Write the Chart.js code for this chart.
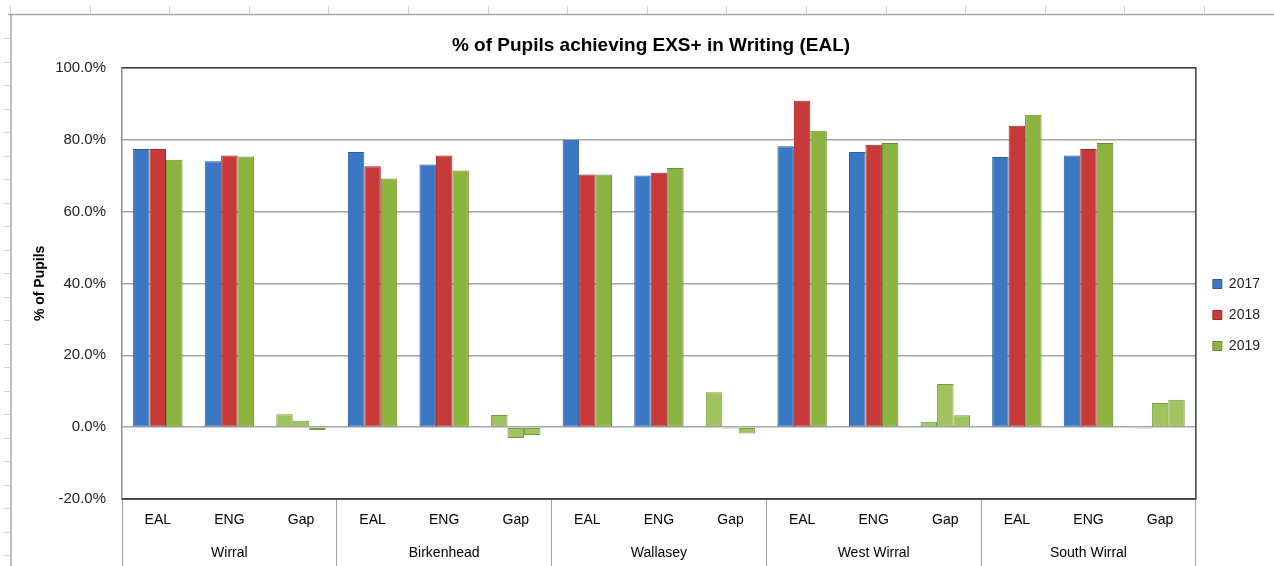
<!DOCTYPE html>
<html>
<head>
<meta charset="utf-8">
<title>% of Pupils achieving EXS+ in Writing (EAL)</title>
<script src="https://cdn.jsdelivr.net/npm/chart.js@4.4.1/dist/chart.umd.min.js"></script>
<style>
    html, body { margin: 0; padding: 0; background: #fff; }
    canvas { display: block; }
</style>
</head>
<body>
<canvas id="writingChart" width="1274" height="566"></canvas>
<script>
// data
const years = ["2017", "2018", "2019"];
const measures = ["EAL", "ENG", "Gap", "EAL", "ENG", "Gap", "EAL", "ENG", "Gap", "EAL", "ENG", "Gap", "EAL", "ENG", "Gap"];
const areas = ["Wirral", "Birkenhead", "Wallasey", "West Wirral", "South Wirral"];
const values2017 = [77.4, 74.0, 3.6, 76.6, 73.1, 3.4, 80.0, 70.0, 9.7, 78.2, 76.6, 1.5, 75.2, 75.6, -0.4];
const values2018 = [77.4, 75.6, 1.8, 72.6, 75.6, -3.0, 70.3, 70.8, -0.4, 90.8, 78.6, 12.0, 83.9, 77.4, 6.7];
const values2019 = [74.4, 75.3, -0.8, 69.2, 71.4, -2.2, 70.3, 72.1, -1.8, 82.5, 79.1, 3.3, 86.9, 79.1, 7.6];
const yTicks = [-20, 0, 20, 40, 60, 80, 100];

const seriesColors = ["#3b78c4", "#c83a3a", "#8ab43e"];
const seriesEdges = ["#2c5d9c", "#9c2b2b", "#6a8d2c"];
const gapColor = "#9fc35e";
const gapEdge = "#7a9b3e";

// two-line tick labels: area name sits under the middle (ENG) bar group
const tickLabels = measures.map((m, i) => (i % 3 === 1 ? [m, areas[(i - 1) / 3]] : [m]));

function makeDataset(label, data, k) {
    return {
        label: label,
        data: data,
        backgroundColor: (ctx) => (ctx.dataIndex % 3 === 2 ? gapColor : seriesColors[k]),
        borderColor: (ctx) => (ctx.dataIndex % 3 === 2 ? gapEdge : seriesEdges[k]),
        borderWidth: 1,
        borderSkipped: false,
        categoryPercentage: 0.69,
        barPercentage: 1.0,
    };
}

// worksheet cell borders behind the chart + dark plot frame
const sheetAndFrame = {
    id: "sheetAndFrame",
    beforeDraw(chart) {
        const ctx = chart.ctx;
        ctx.save();
        ctx.fillStyle = "#ffffff";
        ctx.fillRect(0, 0, chart.width, chart.height);
        ctx.strokeStyle = "#a6a6a6";
        ctx.lineWidth = 1.5;
        ctx.beginPath();
        ctx.moveTo(8, 14.5);
        ctx.lineTo(chart.width, 14.5);
        ctx.moveTo(11, 14.5);
        ctx.lineTo(11, chart.height);
        ctx.stroke();
        ctx.strokeStyle = "#d0d0d0";
        ctx.lineWidth = 1;
        ctx.beginPath();
        for (let x = 10; x < chart.width; x += 79.6) {
            ctx.moveTo(Math.round(x) + 0.5, 6);
            ctx.lineTo(Math.round(x) + 0.5, 14);
        }
        for (let y = 38; y < chart.height; y += 23.5) {
            ctx.moveTo(4, Math.round(y) + 0.5);
            ctx.lineTo(11, Math.round(y) + 0.5);
        }
        ctx.stroke();
        ctx.restore();
    },
    afterDraw(chart) {
        const a = chart.chartArea;
        const ctx = chart.ctx;
        ctx.save();
        ctx.strokeStyle = "#404040";
        ctx.lineWidth = 1.5;
        ctx.beginPath();
        ctx.moveTo(a.left, a.top);
        ctx.lineTo(a.right, a.top);
        ctx.lineTo(a.right, a.bottom);
        ctx.lineTo(a.left, a.bottom);
        ctx.stroke();
        ctx.restore();
    },
};

Chart.defaults.font.family = "'Liberation Sans', Arial, sans-serif";
Chart.defaults.color = "#222";

const config = {
    type: "bar",
    data: {
        labels: tickLabels,
        datasets: [
            makeDataset(years[0], values2017, 0),
            makeDataset(years[1], values2018, 1),
            makeDataset(years[2], values2019, 2),
        ],
    },
    options: {
        responsive: false,
        devicePixelRatio: 1,
        animation: false,
        layout: { padding: { left: 32, right: 4, top: 0, bottom: 0 } },
        plugins: {
            title: {
                display: true,
                text: "% of Pupils achieving EXS+ in Writing (EAL)",
                color: "#000",
                font: { size: 19, weight: "bold" },
                padding: { top: 34, bottom: 11 },
            },
            legend: {
                position: "right",
                // empty title only pushes the legend items down to where the reference has them
                title: { display: true, text: " ", font: { size: 14, lineHeight: 1 }, padding: { top: 50, bottom: 0 } },
                labels: {
                    boxWidth: 9,
                    boxHeight: 9,
                    padding: 17,
                    color: "#000",
                    font: { size: 14 },
                    generateLabels: (chart) =>
                        years.map((y, k) => ({
                            text: y,
                            fillStyle: seriesColors[k],
                            strokeStyle: seriesEdges[k],
                            lineWidth: 1,
                            datasetIndex: k,
                        })),
                },
            },
            tooltip: { enabled: false },
        },
        scales: {
            x: {
                type: "category",
                offset: true,
                afterFit: (scale) => { scale.height = 67; },
                border: { color: "#404040", width: 1.5 },
                grid: {
                    offset: true,
                    drawOnChartArea: false,
                    drawTicks: true,
                    tickLength: 67,
                    color: (ctx) => (ctx.index === undefined || ctx.index % 3 === 0 ? "#a6a6a6" : "rgba(0,0,0,0)"),
                },
                ticks: {
                    autoSkip: false,
                    maxRotation: 0,
                    padding: -62.5,
                    color: "#000",
                    font: { size: 14, lineHeight: "33px" },
                },
            },
            y: {
                min: -20,
                max: 100,
                afterFit: (scale) => { scale.width = 90; },
                afterBuildTicks: (scale) => { scale.ticks = yTicks.map((v) => ({ value: v })); },
                border: { color: "#8c8c8c", width: 1.5 },
                grid: { color: "#a6a6a6", lineWidth: 1.5, drawTicks: false },
                ticks: {
                    padding: 16,
                    color: "#222",
                    font: { size: 15 },
                    callback: (v) => v.toFixed(1) + "%",
                },
                title: {
                    display: true,
                    text: "% of Pupils",
                    color: "#000",
                    font: { size: 14, weight: "bold" },
                    padding: 0,
                },
            },
        },
    },
    plugins: [sheetAndFrame],
};

const canvasCtx = document.getElementById("writingChart")?.getContext("2d");
if (canvasCtx) {
    new Chart(canvasCtx, config);
} else {
    console.error("No canvas with id='writingChart'");
}
</script>
</body>
</html>
